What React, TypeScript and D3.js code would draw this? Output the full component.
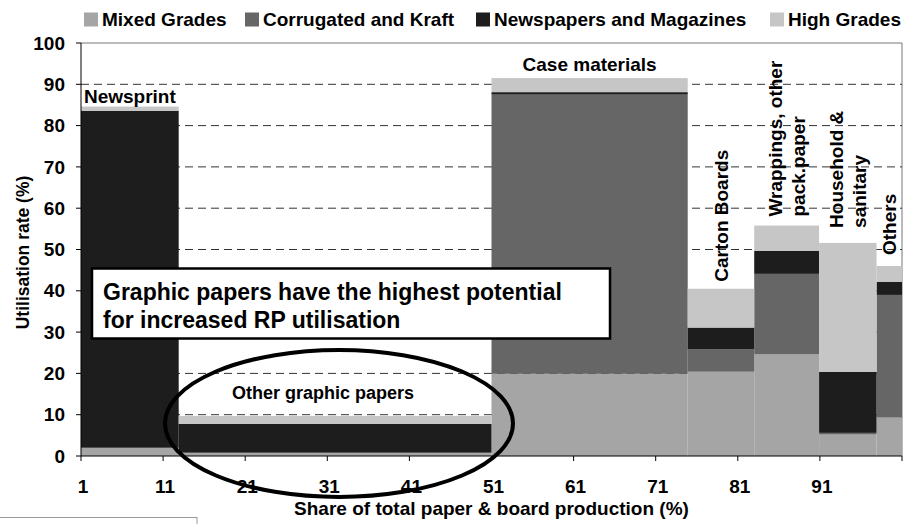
import * as d3 from "d3";

const categories = [
  "Newsprint",
  "Other graphic papers",
  "Case materials",
  "Carton Boards",
  "Wrappings, other pack.paper",
  "Household & sanitary",
  "Others",
];
// share of total paper & board production (%) = bar width
const shares = [11.9, 38.1, 23.9, 8.1, 7.9, 7.0, 3.1];

// utilisation rate (%) by recovered paper grade
const mixedGrades = [2.0, 0.8, 19.9, 20.4, 24.6, 5.2, 9.3];
const corrugatedKraft = [0, 0, 67.6, 5.4, 19.5, 0.4, 29.7];
const newspapersMagazines = [81.6, 7.0, 0.6, 5.3, 5.6, 14.8, 3.2];
const highGrades = [1.0, 1.9, 3.4, 9.4, 6.1, 31.2, 3.8];

const seriesNames = ["Mixed Grades", "Corrugated and Kraft", "Newspapers and Magazines", "High Grades"];
const seriesColors = ["#a5a5a5", "#666666", "#1d1d1d", "#c6c6c6"];

const yTicks = [0, 10, 20, 30, 40, 50, 60, 70, 80, 90, 100];
const xTicks = [0, 10, 20, 30, 40, 50, 60, 70, 80, 90, 100];
const xTickLabels = ["1", "11", "21", "31", "41", "51", "61", "71", "81", "91", ""];

const W = 903;
const H = 524;
const FONT = "'Liberation Sans', Arial, Helvetica, sans-serif";
const M = { left: 81, right: 902, top: 43, bottom: 456 };

export default function App() {
  const x = d3.scaleLinear().domain([0, 100]).range([M.left, M.right]);
  const y = d3.scaleLinear().domain([0, 100]).range([M.bottom, M.top]);

  const ends = Array.from(d3.cumsum(shares));
  const starts = ends.map((e, i) => e - shares[i]);

  const rows = categories.map((c, i) => ({
    cat: c,
    s0: mixedGrades[i],
    s1: corrugatedKraft[i],
    s2: newspapersMagazines[i],
    s3: highGrades[i],
  }));
  const stacked = d3.stack<any>().keys(["s0", "s1", "s2", "s3"])(rows);
  const totals = rows.map((r) => r.s0 + r.s1 + r.s2 + r.s3);

  const cx = (i: number) => x((starts[i] + ends[i]) / 2);

  const legendX = [84, 245, 476, 770];

  const txt = {
    fontFamily: FONT,
    fontWeight: 700,
    fill: "#000",
  } as const;

  // rotated labels for the narrow bars
  const vLabels: { i: number; lines: string[] }[] = [
    { i: 3, lines: ["Carton Boards"] },
    { i: 4, lines: ["Wrappings, other", "pack.paper"] },
    { i: 5, lines: ["Household &", "sanitary"] },
    { i: 6, lines: ["Others"] },
  ];
  const vGap = [7, 9, 15, 11];

  return (
    <svg width={W} height={H} style={{ position: "absolute", left: 0, top: 0, background: "#fff" }}>
      {/* legend */}
      {seriesNames.map((n, k) => (
        <g key={n}>
          <rect x={legendX[k]} y={12.5} width={14} height={14} fill={seriesColors[k]} />
          <text x={legendX[k] + 18} y={26} fontSize={19} {...txt}>
            {n}
          </text>
        </g>
      ))}

      {/* plot frame */}
      <line x1={M.left} x2={M.right} y1={M.top} y2={M.top} stroke="#777" />
      <line x1={M.right} x2={M.right} y1={M.top} y2={M.bottom} stroke="#777" />

      {/* grid */}
      {yTicks.slice(1, -1).map((t) => (
        <line
          key={t}
          x1={M.left}
          x2={M.right}
          y1={y(t)}
          y2={y(t)}
          stroke="#333"
          strokeDasharray="8,5"
        />
      ))}

      {/* bars */}
      {stacked.map((layer, k) =>
        layer.map((d, i) => {
          const h = y(d[0]) - y(d[1]);
          if (h <= 0) return null;
          return (
            <rect
              key={`${k}-${i}`}
              x={x(starts[i])}
              y={y(d[1])}
              width={x(ends[i]) - x(starts[i])}
              height={h}
              fill={seriesColors[k]}
            />
          );
        })
      )}

      {/* axes */}
      <line x1={M.left} x2={M.left} y1={M.top} y2={M.bottom} stroke="#000" />
      <line x1={M.left} x2={M.right} y1={M.bottom} y2={M.bottom} stroke="#000" />
      {yTicks.map((t) => (
        <g key={t}>
          <line x1={M.left - 5} x2={M.left} y1={y(t)} y2={y(t)} stroke="#000" />
          <text x={65} y={y(t)} dy="0.35em" textAnchor="end" fontSize={19} {...txt}>
            {t}
          </text>
        </g>
      ))}
      {xTicks.map((t, i) => (
        <g key={t}>
          <line x1={x(t)} x2={x(t)} y1={M.bottom} y2={M.bottom + 5} stroke="#000" />
          <text x={x(t) + 2} y={493} textAnchor="middle" fontSize={19} {...txt}>
            {xTickLabels[i]}
          </text>
        </g>
      ))}
      <text x={(M.left + M.right) / 2} y={515} textAnchor="middle" fontSize={19} {...txt}>
        Share of total paper &amp; board production (%)
      </text>
      <text
        transform={`translate(29,${(M.top + M.bottom) / 2 + 3}) rotate(-90)`}
        textAnchor="middle"
        fontSize={17.5}
        {...txt}
      >
        Utilisation rate (%)
      </text>

      {/* horizontal bar labels */}
      <text x={cx(0)} y={y(totals[0]) - 4} textAnchor="middle" fontSize={19} {...txt}>
        {categories[0]}
      </text>
      <text x={cx(1) - 12} y={y(totals[1]) - 17} textAnchor="middle" fontSize={18} {...txt}>
        {categories[1]}
      </text>
      <text x={cx(2)} y={y(totals[2]) - 7} textAnchor="middle" fontSize={19} {...txt}>
        {categories[2]}
      </text>

      {/* rotated bar labels */}
      {vLabels.map((v, j) => {
        const n = v.lines.length;
        return v.lines.map((line, l) => {
          const bx = cx(v.i) + 7 + (l - (n - 1) / 2) * 23;
          return (
            <text
              key={`${j}-${l}`}
              transform={`translate(${bx},${y(totals[v.i]) - vGap[j]}) rotate(-90)`}
              fontSize={19}
              {...txt}
            >
              {line}
            </text>
          );
        });
      })}

      {/* callout */}
      <rect x={92} y={268.5} width={518} height={70} fill="#fff" stroke="#000" strokeWidth={2.5} />
      <text x={103} y={300} fontSize={23} {...txt}>
        Graphic papers have the highest potential
      </text>
      <text x={103} y={328} fontSize={23} {...txt}>
        for increased RP utilisation
      </text>

      <ellipse cx={339} cy={423.5} rx={174} ry={73.5} fill="none" stroke="#000" strokeWidth={4} />

      {/* stray box bottom-left */}
      <rect x={-2} y={517.5} width={199} height={20} fill="none" stroke="#999" />
    </svg>
  );
}
